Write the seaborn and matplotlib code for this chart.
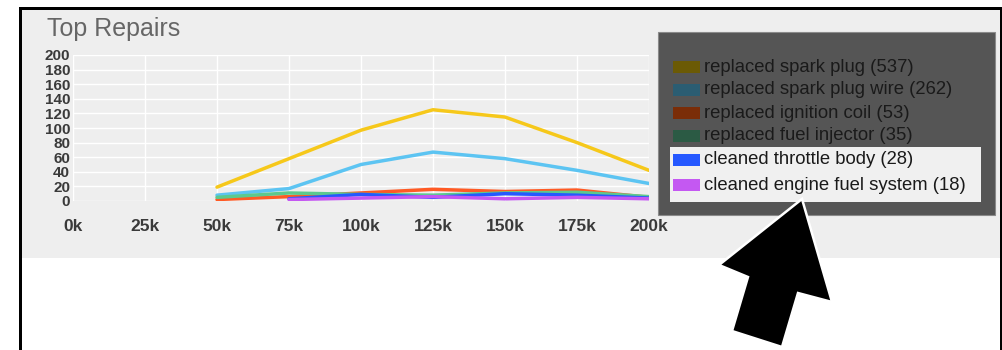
import numpy as np
import pandas as pd
import matplotlib
matplotlib.use("Agg")
import matplotlib.pyplot as plt
from matplotlib.patches import Rectangle, Polygon
import seaborn as sns

# ---- data ----
mileage_k = [50, 75, 100, 125, 150, 175, 200]
series_names = [
    "replaced spark plug (537)",
    "replaced spark plug wire (262)",
    "replaced ignition coil (53)",
    "replaced fuel injector (35)",
    "cleaned throttle body (28)",
    "cleaned engine fuel system (18)",
]
spark_plug = [19, 58, 97, 125, 115, 80, 42]
spark_plug_wire = [8, 17, 50, 67, 58, 42, 24]
ignition_coil = [2, 6, 11, 16, 13, 15, 5]
fuel_injector = [5, 11, 9, 8, 11, 12, 6]
throttle_body = [np.nan, 3, 9, 5, 10, 8, 4]
engine_fuel_system = [np.nan, 2, 4, 6, 3, 5, 3]
x_ticks_k = [0, 25, 50, 75, 100, 125, 150, 175, 200]
y_ticks = list(range(0, 201, 20))

line_colors = ["#f6c81a", "#5cc4f2", "#ff5a24", "#5cc98e", "#2558ff", "#c458f2"]
legend_colors = ["#6b5a05", "#2b5d72", "#7a2d08", "#2b5a44", "#2558ff", "#c458f2"]

values = [spark_plug, spark_plug_wire, ignition_coil, fuel_injector,
          throttle_body, engine_fuel_system]
rows = []
for name, vals in zip(series_names, values):
    for xk, v in zip(mileage_k, vals):
        rows.append({"mileage": xk * 1000, "count": v, "repair": name})
df = pd.DataFrame(rows).dropna()

# ---- figure ----
W, H = 1003, 350
sns.set_theme(style="white")
plt.rcParams["font.family"] = ["Liberation Sans", "DejaVu Sans"]
fig = plt.figure(figsize=(W / 100, H / 100), dpi=100)
fig.patch.set_facecolor("white")


def fx(x):
    return x / W


def fy(y):
    return 1 - y / H


# light panel
fig.patches.append(Rectangle((fx(20), fy(258)), fx(1001) - fx(20), fy(9) - fy(258),
                             transform=fig.transFigure, facecolor="#eeeeee",
                             edgecolor="none", zorder=-2))
# black frame
for (x0, y0, x1, y1) in [(19, 7, 22, 350), (19, 7, 1003, 10), (1000, 7, 1003, 350)]:
    fig.patches.append(Rectangle((fx(x0), fy(y1)), fx(x1) - fx(x0), fy(y0) - fy(y1),
                                 transform=fig.transFigure, facecolor="black",
                                 edgecolor="none", zorder=-1))

ax = fig.add_axes([fx(73), fy(201), fx(649) - fx(73), fy(55) - fy(201)])
ax.set_facecolor("#eeeeee")
sns.lineplot(data=df, x="mileage", y="count", hue="repair", hue_order=series_names,
             palette=line_colors, linewidth=2.5, legend=False, ax=ax, zorder=3)
ax.set_xlim(0, 200000)
ax.set_ylim(0, 200)
ax.set_xticks([k * 1000 for k in x_ticks_k])
ax.set_xticklabels([f"{k}k" for k in x_ticks_k])
ax.set_yticks(y_ticks)
ax.set_yticklabels([str(v) for v in y_ticks])
ax.grid(True, color="white", linewidth=1.0)
ax.set_axisbelow(True)
for s in ax.spines.values():
    s.set_visible(False)
ax.set_xlabel("")
ax.set_ylabel("")
ax.tick_params(axis="x", length=0, pad=13, labelsize=12.5, labelcolor="#222222")
ax.tick_params(axis="y", length=0, pad=2, labelsize=11, labelcolor="#222222")
for lab in ax.get_xticklabels() + ax.get_yticklabels():
    lab.set_fontweight("bold")
    lab.set_color("#3a3a3a")

fig.text(fx(47), fy(29), "Top Repairs", fontsize=18, color="#666666",
         va="center", ha="left")

# dark overlay
fig.patches.append(Rectangle((fx(658), fy(215)), fx(995) - fx(658), fy(32) - fy(215),
                             transform=fig.transFigure, facecolor="#555555",
                             edgecolor="#8a8a8a", linewidth=0.8, zorder=5))
# highlight box
fig.patches.append(Rectangle((fx(670), fy(202)), fx(981) - fx(670), fy(147) - fy(202),
                             transform=fig.transFigure, facecolor="#f0f0f0",
                             edgecolor="none", zorder=6))
row_y = [67, 90, 113, 136, 160, 185]
for name, col, yy in zip(series_names, legend_colors, row_y):
    fig.patches.append(Rectangle((fx(673), fy(yy + 6)), fx(700) - fx(673), fy(yy - 6) - fy(yy + 6),
                                 transform=fig.transFigure, facecolor=col,
                                 edgecolor="none", zorder=7))
    fig.text(fx(704), fy(yy), name, fontsize=13.3, color="#1a1a1a",
             va="center", ha="left", zorder=8)

# arrow
arrow_pts = [(802, 199), (832, 302), (798, 293), (782, 347), (732, 331),
             (748, 277), (719, 265)]
fig.patches.append(Polygon([(fx(a), fy(b)) for a, b in arrow_pts], closed=True,
                           transform=fig.transFigure, facecolor="black",
                           edgecolor="white", linewidth=1.8, zorder=9))

fig.savefig("out.png", dpi=100)
